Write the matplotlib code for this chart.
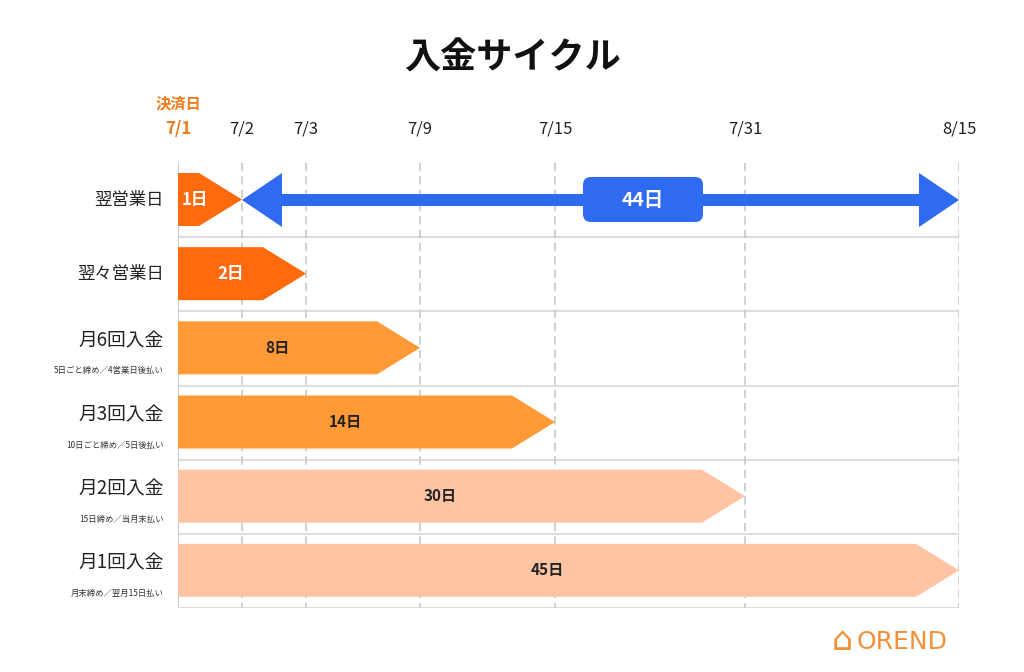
import matplotlib.pyplot as plt
from matplotlib.patches import Polygon, FancyBboxPatch

plt.rcParams["font.family"] = "Noto Sans CJK JP"

tick_labels = ["7/1", "7/2", "7/3", "7/9", "7/15", "7/31", "8/15"]
tick_pos = [0, 64, 128, 242, 377, 567, 781]  # uneven spacing as in the original
row_names = ["翌営業日", "翌々営業日", "月6回入金", "月3回入金", "月2回入金", "月1回入金"]
row_notes = ["", "", "5日ごと締め／4営業日後払い", "10日ごと締め／5日後払い",
             "15日締め／当月末払い", "月末締め／翌月15日払い"]
row_end = [1, 2, 3, 4, 5, 6]  # tick index where each arrow ends
row_days = ["1日", "2日", "8日", "14日", "30日", "45日"]
row_colors = ["#ff6a0c", "#ff6a0c", "#ff9a36", "#ff9a36", "#ffc4a4", "#ffc4a4"]
label_colors = ["white", "white", "#222222", "#222222", "#222222", "#222222"]
span_label = "44日"

fig = plt.figure(figsize=(10.24, 6.72), dpi=100)
W, H = 781, 445
ax = fig.add_axes([178 / 1024, 64 / 672, W / 1024, H / 672])
ax.set_xlim(0, W)
ax.set_ylim(H, 0)
ax.axis("off")

row_h = H / len(row_names)
for i in range(1, len(row_names)):
    ax.plot([0, W], [i * row_h] * 2, color="#dddddd", lw=1.5, zorder=1)
ax.plot([0, 0], [0, H], color="#cccccc", lw=1.5, zorder=1)
ax.plot([0, W], [H, H], color="#dddddd", lw=1.5, zorder=1)
for p in tick_pos[1:]:
    ax.plot([p, p], [0, H], color="#c8c8c8", lw=1.2, ls=(0, (5, 3)), zorder=1)

for i, name in enumerate(row_names):
    top = i * row_h + 10
    bot = top + 53
    mid = (top + bot) / 2
    end = tick_pos[row_end[i]]
    tip = min(43, end)
    poly = [(0, top), (end - tip, top), (end, mid), (end - tip, bot), (0, bot)]
    ax.add_patch(Polygon(poly, closed=True, color=row_colors[i], lw=0, zorder=3))
    cx = 17 if i == 0 else (end - tip) / 2 + (10 if i == 1 else 0)
    ax.text(cx, mid, row_days[i], ha="center", va="center", fontsize=11 if i > 1 else 12,
            fontweight="bold", color=label_colors[i], zorder=4)
    if row_notes[i]:
        ax.text(-14, mid - 7, name, ha="right", va="center", fontsize=13.5, color="#222222")
        ax.text(-14, mid + 23, row_notes[i], ha="right", va="center", fontsize=6, color="#333333")
    else:
        ax.text(-14, mid, name, ha="right", va="center", fontsize=12.5, color="#222222")

# blue double arrow
blue = "#2f6bf0"
y0, hl, hh, sh = 37, 40, 27, 6
x0, x1 = tick_pos[1], tick_pos[-1]
ax.add_patch(Polygon([(x0, y0), (x0 + hl, y0 - hh), (x0 + hl, y0 - sh), (x1 - hl, y0 - sh),
                      (x1 - hl, y0 - hh), (x1, y0), (x1 - hl, y0 + hh), (x1 - hl, y0 + sh),
                      (x0 + hl, y0 + sh), (x0 + hl, y0 + hh)],
                     closed=True, color=blue, lw=0, zorder=5, joinstyle="round"))
ax.add_patch(FancyBboxPatch((405, 14), 120, 45, boxstyle="round,pad=0,rounding_size=8",
                            color=blue, lw=0, zorder=6))
ax.text(465, 37, span_label, ha="center", va="center", fontsize=14, fontweight="bold",
        color="white", zorder=7)

for lab, p in zip(tick_labels, tick_pos):
    bold = p == 0
    ax.text(p, -34, lab, ha="center", va="center", fontsize=12, clip_on=False,
            color="#f07a1a" if bold else "#222222", fontweight="bold" if bold else "normal")
ax.text(0, -60, "決済日", ha="center", va="center", fontsize=11, fontweight="bold",
        color="#f07a1a", clip_on=False)

fig.text(512 / 1024, 1 - 58 / 672, "入金サイクル", ha="center", va="center",
         fontsize=26, fontweight="bold", color="#111111")
fig.text(948 / 1024, 1 - 642 / 672, "OREND", ha="right", va="center", fontsize=18,
         color="#f0913a", fontfamily="DejaVu Sans")
fig.text(842 / 1024, 1 - 640 / 672, "⌂", ha="center", va="center", fontsize=24,
         color="#f0913a", fontfamily="DejaVu Sans")

fig.savefig("out.png", dpi=100, facecolor="white")
